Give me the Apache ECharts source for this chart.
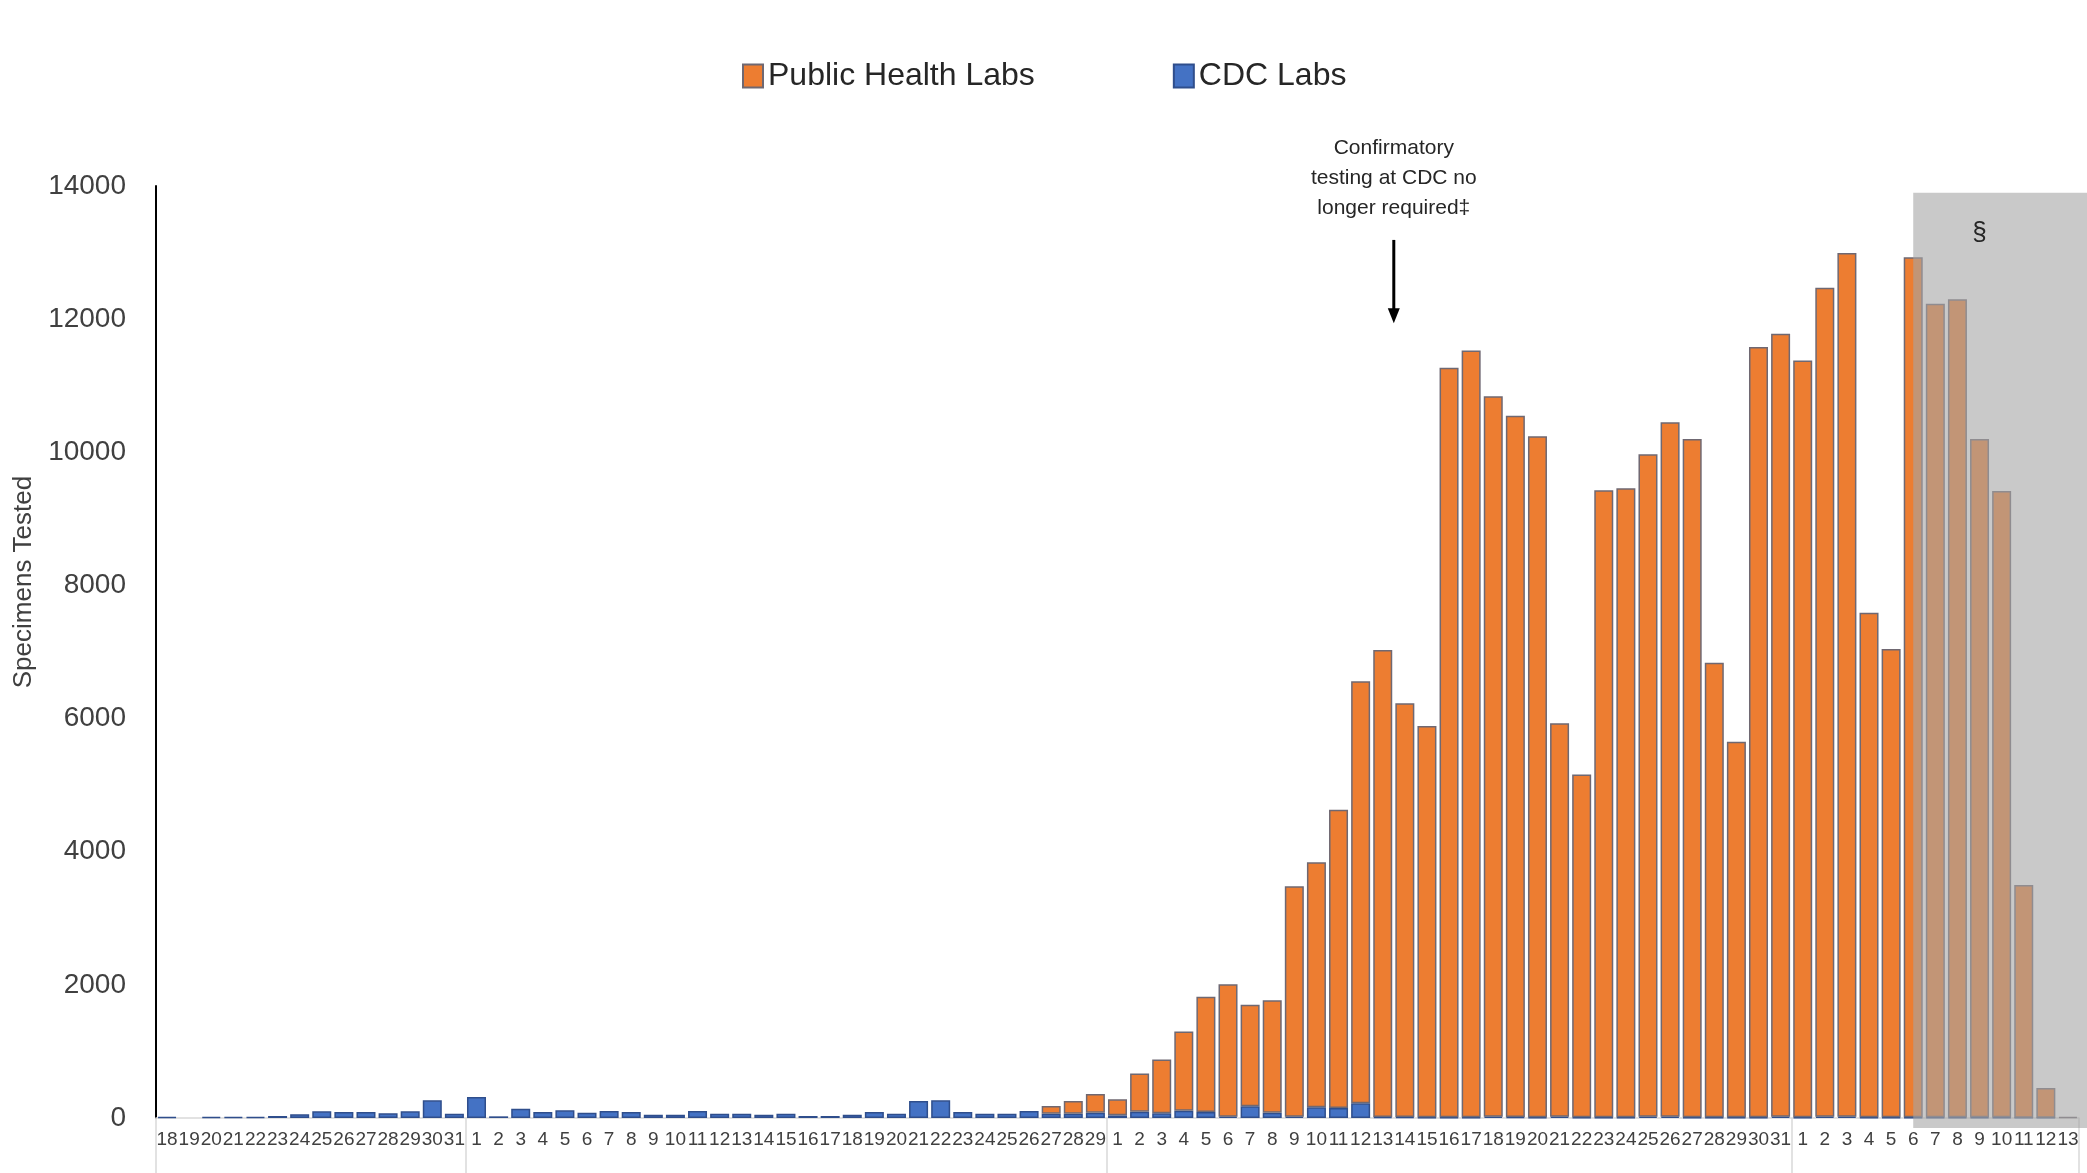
<!DOCTYPE html>
<html>
<head>
<meta charset="utf-8">
<script src="https://cdn.jsdelivr.net/npm/echarts@6/dist/echarts.min.js"></script>
<style>
  html, body { margin: 0; padding: 0; background: #fff; }
  #chart { width: 2087px; height: 1173px; }
</style>
</head>
<body>
<div id="chart"></div>
<script>
// ---- Data ----
const janDays = [18,19,20,21,22,23,24,25,26,27,28,29,30,31];
const febDays = [1,2,3,4,5,6,7,8,9,10,11,12,13,14,15,16,17,18,19,20,21,22,23,24,25,26,27,28,29];
const marDays = [1,2,3,4,5,6,7,8,9,10,11,12,13,14,15,16,17,18,19,20,21,22,23,24,25,26,27,28,29,30,31];
const aprDays = [1,2,3,4,5,6,7,8,9,10,11,12,13];

const categories = [].concat(
  janDays.map(d => 'Jan ' + d),
  febDays.map(d => 'Feb ' + d),
  marDays.map(d => 'Mar ' + d),
  aprDays.map(d => 'Apr ' + d)
);
const monthStarts = ['Jan 18', 'Feb 1', 'Mar 1', 'Apr 1'];

// CDC Labs specimens per day
const cdcLabs = [
  // Jan 18-31
  15, 0, 15, 15, 15, 30, 55, 100, 90, 90, 70, 100, 265, 65,
  // Feb 1-29
  315, 25, 140, 90, 115, 80, 105, 90, 50, 50, 105, 65, 65, 50, 65, 30, 30, 50, 90, 65,
  255, 265, 90, 65, 65, 105, 65, 65, 80,
  // Mar 1-31
  40, 95, 70, 110, 90, 20, 175, 80, 20, 160, 150, 220, 15, 15, 10, 10, 10, 20, 15, 10,
  20, 10, 10, 10, 20, 20, 10, 10, 10, 10, 20,
  // Apr 1-13
  10, 20, 20, 10, 10, 10, 10, 10, 10, 10, 5, 5, 0
];

// Public Health Labs specimens per day
const publicHealthLabs = [
  // Jan 18-31
  0, 0, 0, 0, 0, 0, 0, 0, 0, 0, 0, 0, 0, 0,
  // Feb 1-29
  0, 0, 0, 0, 0, 0, 0, 0, 0, 0, 0, 0, 0, 0, 0, 0, 0, 0, 0, 0,
  0, 0, 0, 0, 0, 0, 115, 190, 280,
  // Mar 1-31
  240, 575, 810, 1190, 1730, 1990, 1525, 1690, 3460, 3680, 4480, 6340, 7015, 6215, 5880,
  11260, 11520, 10820, 10535, 10230, 5910, 5150, 9420, 9450, 9950, 10430, 10190, 6830,
  5640, 11570, 11760,
  // Apr 1-13
  11370, 12450, 12975, 7580, 7035, 12920, 12220, 12290, 10190, 9410, 3495, 445, 15
];

const yTicks = { min: 0, max: 14000, interval: 2000 };

// ---- Chart ----
const chart = echarts.init(document.getElementById('chart'), null, { renderer: 'canvas' });
const FONT = '"Liberation Sans", Arial, sans-serif';

const option = {
  animation: false,
  backgroundColor: '#ffffff',
  textStyle: { fontFamily: FONT },
  legend: {
    data: ['Public Health Labs', 'CDC Labs'],
    left: 737,
    top: 55,
    itemGap: 138,
    itemWidth: 20,
    itemHeight: 23,
    icon: 'rect',
    textStyle: { fontSize: 32, color: '#262626', fontFamily: FONT }
  },
  grid: { left: 156, right: 8, top: 186, bottom: 55, containLabel: false },
  xAxis: {
    type: 'category',
    data: categories,
    boundaryGap: true,
    axisLine: { show: true, lineStyle: { color: '#d9d9d9', width: 1.5 } },
    axisTick: {
      show: true,
      inside: false,
      length: 56,
      interval: function (idx, value) { return monthStarts.indexOf(value) >= 0; },
      lineStyle: { color: '#d9d9d9', width: 1.5 }
    },
    axisLabel: {
      interval: 0,
      margin: 12,
      fontSize: 19,
      color: '#404040',
      fontFamily: FONT,
      formatter: function (v) { return v.split(' ')[1]; }
    },
    splitLine: { show: false }
  },
  yAxis: {
    type: 'value',
    min: yTicks.min,
    max: yTicks.max,
    interval: yTicks.interval,
    name: 'Specimens Tested',
    nameLocation: 'middle',
    nameGap: 114,
    nameRotate: 90,
    nameTextStyle: { fontSize: 26, color: '#404040', fontFamily: FONT, padding: [0, 0, 0, 140] },
    axisLine: { show: true, lineStyle: { color: '#000000', width: 2 } },
    axisTick: { show: false },
    axisLabel: {
      fontSize: 28, color: '#404040', margin: 30, fontFamily: FONT,
      formatter: function (v) { return String(v); }
    },
    splitLine: { show: false }
  },
  series: [
    {
      name: 'CDC Labs',
      type: 'bar',
      stack: 'total',
      barCategoryGap: '14%',
      data: cdcLabs.map(v => v === 0 ? null : v),
      itemStyle: { color: '#4472C4', borderColor: '#2F4E8C', borderWidth: 1.5 },
      z: 2
    },
    {
      name: 'Public Health Labs',
      type: 'bar',
      stack: 'total',
      barCategoryGap: '14%',
      data: publicHealthLabs.map(v => v === 0 ? null : v),
      itemStyle: { color: '#ED7D31', borderColor: '#6F6872', borderWidth: 1.5 },
      z: 2
    },
    {
      name: 'shade',
      type: 'line',
      data: [],
      z: 10,
      silent: true,
      markArea: {
        silent: true,
        z: 10,
        itemStyle: { color: 'rgba(165,165,165,0.6)' },
        data: [[{ xAxis: 'Apr 6', yAxis: 13900 }, { x: '100%', y: 1128 }]]
      }
    }
  ]
};
chart.setOption(option);

// ---- Annotations tied to data coordinates ----
const p = (cat, v) => chart.convertToPixel({ gridIndex: 0 }, [cat, v]);
const a1 = p('Mar 13', 13190), a2 = p('Mar 14', 13190);
const arrowX = (a1[0] + a2[0]) / 2;
const arrowTop = a1[1];
const arrowBottom = p('Mar 13', 11940)[1];
const textY = p('Mar 13', 14110)[1];
const sect = p('Apr 9', 13290);

chart.setOption({
  graphic: [
    {
      type: 'text', z: 20,
      x: arrowX, y: textY,
      style: {
        text: 'Confirmatory\ntesting at CDC no\nlonger required\u2021',
        fontSize: 21, lineHeight: 30, fontFamily: FONT,
        fill: '#262626', align: 'center', verticalAlign: 'middle'
      }
    },
    {
      type: 'line', z: 20,
      shape: { x1: arrowX, y1: arrowTop, x2: arrowX, y2: arrowBottom - 12 },
      style: { stroke: '#000', lineWidth: 3 }
    },
    {
      type: 'polygon', z: 20,
      shape: { points: [[arrowX - 6, arrowBottom - 15], [arrowX + 6, arrowBottom - 15], [arrowX, arrowBottom]] },
      style: { fill: '#000' }
    },
    {
      type: 'text', z: 20,
      x: sect[0], y: sect[1],
      style: { text: '\u00a7', fontSize: 26, fontFamily: FONT, fill: '#262626', align: 'center', verticalAlign: 'middle' }
    }
  ]
});
</script>
</body>
</html>
